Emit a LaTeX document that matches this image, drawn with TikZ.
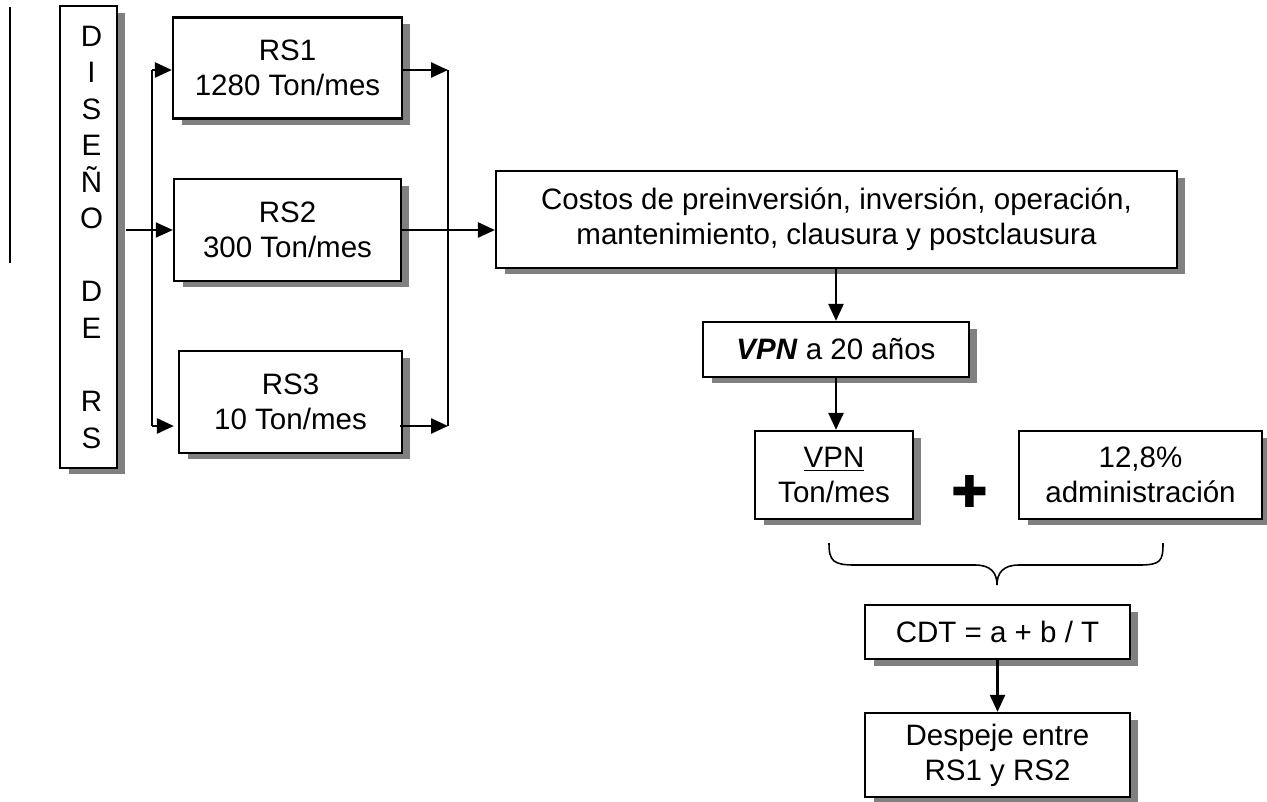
\documentclass[tikz,border=0pt]{standalone}
\usepackage{fontspec}
\setmainfont{Liberation Sans}
\newfontfamily\simbolos{DejaVu Sans}
\usetikzlibrary{arrows.meta,shadows}
\tikzset{
  caja/.style={draw, fill=white, line width=1.3pt, align=center, inner sep=0pt,
    font=\fontsize{16.8}{20}\selectfont,
    drop shadow={shadow xshift=0.17cm, shadow yshift=-0.13cm, fill=gray, opacity=1}},
  flecha/.style={line width=1.4pt, -{Triangle[length=0.34cm,width=0.3cm]}}
}
\begin{document}
\begin{tikzpicture}[x=0.02cm, y=-0.02cm]
  \useasboundingbox (0,0) rectangle (1267,801);
  \draw[line width=1.3pt] (10,7) -- (10,263);

  \node[caja, minimum width=1.14cm, minimum height=9.24cm,
        font=\fontsize{16.8}{20.8}\selectfont] (diseno) at (88.5,237)
        {\hspace*{0.12cm}D\\\hspace*{0.12cm}I\\\hspace*{0.12cm}S\\\hspace*{0.12cm}E\\\hspace*{0.12cm}Ñ\\\hspace*{0.12cm}O\\\mbox{}\\\hspace*{0.12cm}D\\\hspace*{0.12cm}E\\\mbox{}\\\hspace*{0.12cm}R\\\hspace*{0.12cm}S};

  \node[caja, minimum width=4.58cm, minimum height=2.02cm] (rs1) at (287.5,68) {RS1\\1280 Ton/mes};
  \node[caja, minimum width=4.54cm, minimum height=2.04cm] (rs2) at (287.5,230) {RS2\\300 Ton/mes};
  \node[caja, minimum width=4.46cm, minimum height=2.04cm] (rs3) at (290.5,402) {RS3\\10 Ton/mes};

  \node[caja, minimum width=13.62cm, minimum height=1.94cm] (costos) at (836.5,219.5)
        {Costos de preinversión, inversión, operación,\\mantenimiento, clausura y postclausura};
  \node[caja, minimum width=5.32cm, minimum height=1.1cm] (vpn20) at (836,349.5)
        {\textbf{\textit{VPN}} a 20 años};
  \node[caja, minimum width=3.16cm, minimum height=1.76cm] (vpnton) at (834,475)
        {\underline{VPN}\\Ton/mes};
  \node[font=\simbolos\fontsize{25}{25}\selectfont] (mas) at (970,491) {✚};
  \node[caja, minimum width=4.86cm, minimum height=1.76cm] (admin) at (1140.5,475)
        {12,8\%\\administración};

  \node[caja, minimum width=5.3cm, minimum height=1.08cm] (cdt) at (997.5,632) {CDT = a + b / T};
  \node[caja, minimum width=5.3cm, minimum height=1.68cm] (despeje) at (997.5,755)
        {Despeje entre\\RS1 y RS2};

  \coordinate (bus1) at (152,70);
  \coordinate (bus3) at (152,426);
  \coordinate (rbus1) at (448,70);
  \coordinate (rbus3) at (448,426);
  \coordinate (brL) at (829,543);
  \coordinate (brT) at (997,585);
  \coordinate (brR) at (1163,543);

  \draw[line width=1.4pt] (bus1) -- (bus3);
  \draw[flecha] (bus1) -- (rs1.west |- bus1);
  \draw[flecha, line width=0.8pt] ([xshift=0.16cm]diseno.east |- rs2.west) -- (rs2.west);
  \draw[flecha, shorten >=0.08cm] (bus3) -- (rs3.west |- bus3);

  \draw[flecha] (rs1.east |- rbus1) -- (rbus1);
  \draw[flecha] ([xshift=-0.06cm]rs3.east |- rbus3) -- (rbus3);
  \draw[line width=1.4pt] (rbus1) -- (rbus3);
  \draw[flecha] (rs2.east) -- (costos.west |- rs2.east);

  \draw[flecha] (vpn20.north |- costos.south) -- (vpn20.north);
  \draw[flecha] (vpn20.south) -- (vpn20.south |- vpnton.north);
  \draw[flecha] (cdt.south) -- (despeje.north);

  \draw[line width=0.9pt] (brL) .. controls +(0,18) and +(-22,0) .. (855,565) -- (975,565)
        .. controls +(16,0) and +(0,-12) .. (brT)
        .. controls +(0,-12) and +(-16,0) .. (1019,565) -- (1139,565)
        .. controls +(22,0) and +(0,18) .. (brR);
\end{tikzpicture}
\end{document}
